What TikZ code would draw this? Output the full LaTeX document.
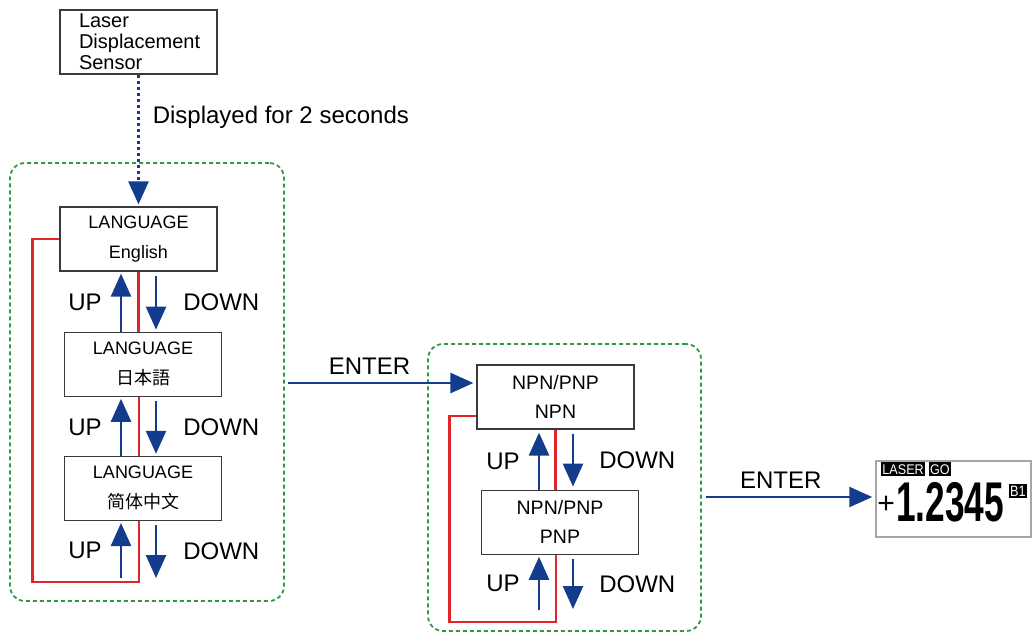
\documentclass[tikz,border=0pt]{standalone}
\usepackage{fontspec}
\setmainfont{Liberation Sans}
\newfontfamily\jpfont{Noto Sans CJK JP}
\newfontfamily\scfont{Noto Sans CJK SC}
\usetikzlibrary{positioning,arrows.meta,calc}
\definecolor{flowBlue}{HTML}{143C8C}
\definecolor{loopRed}{HTML}{E0262B}
\definecolor{groupGreen}{HTML}{2E9A44}
\definecolor{boxEdge}{HTML}{3A3A3A}

\begin{document}
\begin{tikzpicture}[x=1pt, y=1pt, node distance=60pt,
    modebox/.style={draw=boxEdge, line width=1.2pt, minimum width=157pt, minimum height=64pt, align=center, inner sep=0pt, font=\fontsize{18}{30}\selectfont},
    group/.style={draw=groupGreen, line width=1.8pt, dash pattern=on 4pt off 3pt, rounded corners=15pt, minimum width=274pt},
    keyarr/.style={-{Triangle[length=23pt,width=20pt]}, flowBlue, line width=2.6pt},
    loopline/.style={loopRed, line width=2.4pt},
    key/.style={font=\fontsize{24}{24}\selectfont, inner sep=0pt, text=black},
    tag/.style={fill=black, text=white, inner sep=1pt, minimum height=14pt, font=\fontsize{14}{14}\selectfont}]
  \useasboundingbox (0,0) rectangle (1033,-633);

  % dashed groups
  \node[group, minimum height=438pt] (g1) at (147,-382) {};
  \node[group, minimum width=273pt, minimum height=287pt] (g2) at (564.5,-487.5) {};

  % start screen
  \node[draw=boxEdge, line width=1.2pt, minimum height=64pt, align=left, text width=119pt, inner xsep=19pt, inner ysep=0pt, font=\fontsize{20}{21}\selectfont] (sensor) at (138.5,-42) {Laser\\Displacement\\Sensor};

  % language choice
  \node[modebox] (l1) at (138.5,-239) {LANGUAGE\\English};
  \node[modebox, below=60pt of l1, xshift=4.5pt] (l2) {LANGUAGE\\{\jpfont 日本語}};
  \node[modebox, below=59pt of l2] (l3) {LANGUAGE\\{\scfont 简体中文}};
  \coordinate (lbot) at (139,-582);

  \draw[keyarr, dash pattern=on 3pt off 3pt] (sensor.south) -- ([yshift=2pt]l1.north)
    node[pos=0.33, right=13pt, key] (wait) {Displayed for 2 seconds};

  \draw[keyarr] ([xshift=-22pt]l2.north) -- ([xshift=-17.5pt,yshift=-2pt]l1.south) node[midway, left=18pt, key] (u1) {UP};
  \draw[keyarr] ([xshift=17.5pt,yshift=-4pt]l1.south) -- ([xshift=13pt,yshift=2pt]l2.north) node[midway, right=26pt, key] (d1) {DOWN};
  \draw[loopline] (l1.south) -- (l1.south |- l2.north);
  \draw[keyarr] ([xshift=-22pt]l3.north) -- ([xshift=-22pt,yshift=-2pt]l2.south) node[midway, left=18pt, key] (u2) {UP};
  \draw[keyarr] ([xshift=13pt,yshift=-4pt]l2.south) -- ([xshift=13pt,yshift=2pt]l3.north) node[midway, right=26pt, key] (d2) {DOWN};
  \draw[loopline] ([xshift=-4pt]l2.south) -- ([xshift=-4pt]l3.north);
  \draw[keyarr] ([xshift=-18pt,yshift=4pt]lbot) -- ([xshift=-22pt,yshift=-2pt]l3.south) node[midway, left=18pt, key] (u3) {UP};
  \draw[keyarr] ([xshift=13pt,yshift=-4pt]l3.south) -- ([xshift=17pt,yshift=4pt]lbot) node[midway, right=26pt, key] (d3) {DOWN};
  \draw[loopline] ([xshift=-4pt]l3.south) -- (lbot) -| ([xshift=-27pt]l1.west) -- (l1.west);

  % output choice
  \node[modebox, font=\fontsize{19.5}{29}\selectfont] (n1) at (555.5,-397) {NPN/PNP\\NPN};
  \node[modebox, font=\fontsize{19.5}{29}\selectfont, below=60pt of n1, xshift=4.5pt] (n2) {NPN/PNP\\PNP};
  \coordinate (nbot) at (556,-622);

  \coordinate (e1) at ([yshift=14pt]n1.west);
  \draw[keyarr] ($(e1 -| g1.east)+(3pt,0)$) -- ($(e1)+(-3pt,0)$) node[pos=0.44, above=7pt, key] (ent1) {ENTER};

  \draw[keyarr] ([xshift=-21pt]n2.north) -- ([xshift=-16.5pt,yshift=-3pt]n1.south) node[midway, left=18pt, key] (u4) {UP};
  \draw[keyarr] ([xshift=17.5pt,yshift=-4pt]n1.south) -- ([xshift=13pt,yshift=3pt]n2.north) node[midway, right=25pt, key] (d4) {DOWN};
  \draw[loopline] (n1.south) -- (n1.south |- n2.north);
  \draw[keyarr] ([xshift=-17pt,yshift=12pt]nbot) -- ([xshift=-21pt,yshift=-2pt]n2.south) node[midway, left=18pt, key] (u5) {UP};
  \draw[keyarr] ([xshift=13pt,yshift=-4pt]n2.south) -- ([xshift=17pt,yshift=13pt]nbot) node[midway, right=25pt, key] (d5) {DOWN};
  \draw[loopline] (nbot |- n2.south) -- (nbot) -| ([xshift=-27pt,yshift=-19pt]n1.west) -- ([yshift=-19pt]n1.west);

  % measuring screen
  \node[draw=gray!70, line width=1.5pt, minimum width=155pt, minimum height=76pt, inner sep=0pt] (disp) at (953.5,-499) {};
  \coordinate (e2) at ([yshift=2pt]disp.west);
  \draw[keyarr] ($(e2 -| g2.east)+(4pt,0)$) -- ($(e2)+(-3pt,0)$) node[pos=0.45, above=7pt, key] (ent2) {ENTER};

  \node[tag, anchor=north west] (laser) at ([shift={(6pt,-2pt)}]disp.north west) {\scalebox{0.9}[1]{LASER}};
  \node[tag, right=4pt of laser] (go) {\scalebox{0.9}[1]{GO}};
  \node[inner sep=0pt, font=\fontsize{30}{30}\selectfont] (sign) at (886,-505) {+};
  \node[inner sep=0pt, anchor=base west, font=\bfseries\fontsize{56}{56}\selectfont] (val) at (896,-521) {\scalebox{0.63}[1]{1.2345}};
  \node[tag, anchor=north west, font=\fontsize{15}{15}\selectfont] (unit) at (1009,-484) {\scalebox{0.85}[1]{B1}};
\end{tikzpicture}
\end{document}
